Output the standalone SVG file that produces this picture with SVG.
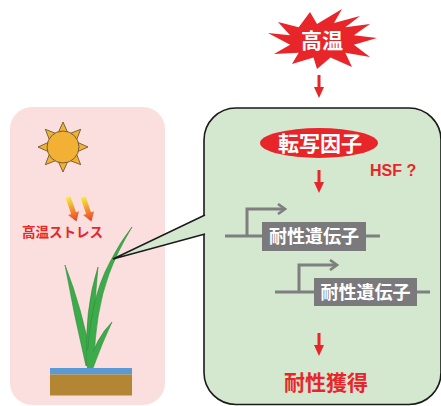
<svg xmlns="http://www.w3.org/2000/svg" width="441" height="406" viewBox="0 0 441 406">
  <style>
    .jp { font-family: "Noto Sans CJK JP", "Noto Sans", sans-serif; font-weight: bold; }
    .latin { font-family: "Liberation Sans", Arial, sans-serif; font-weight: bold; }
    .red { fill: #E8262A; }
    .white { fill: #FFFFFF; }
    .gene-line { stroke: #7F7F80; stroke-width: 3; fill: none; }
    .gene-box { fill: #7A7A7C; }
    .leaf { fill: #3CAB4A; stroke: #2F8A3A; stroke-width: 0.6; }
  </style>
  <defs>
    <linearGradient id="heat" gradientUnits="userSpaceOnUse" x1="0" y1="0" x2="0" y2="26">
      <stop offset="0" stop-color="#F6EE3C"/>
      <stop offset="1" stop-color="#EA3A2A"/>
    </linearGradient>
    <marker id="promoter" markerWidth="10" markerHeight="12" refX="7" refY="6" orient="auto" markerUnits="userSpaceOnUse">
      <path d="M1,1 L8,6 L1,11" fill="none" stroke="#7F7F80" stroke-width="2.6"/>
    </marker>
  </defs>

  <rect width="441" height="406" fill="#FFFFFF"/>

  <!-- left panel: plant under the sun -->
  <g id="plant-panel">
    <rect x="10" y="107" width="155" height="298" rx="22" fill="#FBDFDE"/>
    <g id="sun">
      <polygon points="88,147 75.9,152.4 80.7,164.7 68.4,159.9 63,172 57.6,159.9 45.3,164.7 50.1,152.4 38,147 50.1,141.6 45.3,129.3 57.6,134.1 63,122 68.4,134.1 80.7,129.3 75.9,141.6" fill="#F2B134" stroke="#5A4A30" stroke-width="0.8"/>
      <circle cx="63" cy="147" r="16" fill="#F2B134" stroke="#5A4A30" stroke-width="0.8"/>
    </g>
    <g id="heat-rays">
      <g transform="translate(68,197) rotate(-19)">
        <rect x="-2.6" y="0" width="5.2" height="18" fill="url(#heat)"/>
        <polygon points="-5.8,17 5.8,17 0,26" fill="url(#heat)"/>
      </g>
      <g transform="translate(83,197) rotate(-19)">
        <rect x="-2.6" y="0" width="5.2" height="18" fill="url(#heat)"/>
        <polygon points="-5.8,17 5.8,17 0,26" fill="url(#heat)"/>
      </g>
    </g>
    <text class="jp red" x="22" y="237" font-size="13.5">高温ストレス</text>
    <g id="rice">
      <path class="leaf" d="M86,366 Q74,315 65,265 Q82,308 92,362 Z"/>
      <path class="leaf" d="M87,366 Q84,310 98,267 Q93,318 93,362 Z"/>
      <path class="leaf" d="M87,366 Q89,300 110,262 Q120,242 132,227 Q117,252 109,274 Q95,312 94,364 Z"/>
      <path class="leaf" d="M89,364 Q96,338 112,322 Q102,343 93,368 Z"/>
      <rect x="87" y="350" width="6" height="18" fill="#3CAB4A"/>
    </g>
    <g id="pot">
      <rect x="50" y="368" width="82" height="6.5" fill="#5B9BD5"/>
      <rect x="50" y="374.5" width="82" height="21" fill="#B38633"/>
    </g>
  </g>

  <!-- right panel: heat response pathway -->
  <g id="zoom-panel">
    <rect x="204" y="108" width="237" height="296.5" rx="32" fill="#D4E7CF" stroke="#1A1A1A" stroke-width="1.6"/>
  </g>
  <g id="callout">
    <polygon points="113,259 205,215 205,234" fill="#D4E7CF"/>
    <polyline points="205,215 113,259 205,234" fill="none" stroke="#1A1A1A" stroke-width="1.4"/>
  </g>

  <g id="heat-burst">
    <polygon points="377,38 353.9,44.7 370,57 345.3,52.7 352,67 330.5,57.4 317,69 313.5,57.4 292,64 298.7,52.7 274,54 290.1,44.7 268,33 290.1,35.3 278,22 298.7,27.3 310,12 317,24 342,9 334,23 360,16 345.3,27.3 370,24 353.9,35.3" class="red"/>
    <text class="jp white" x="322" y="48" font-size="21" text-anchor="middle">高温</text>
  </g>

  <g id="transcription-factor">
    <ellipse cx="319" cy="143" rx="59" ry="15" class="red"/>
    <text class="jp white" x="320" y="151" font-size="21" text-anchor="middle">転写因子</text>
  </g>
  <text id="hsf" class="latin red" x="370" y="176" font-size="16">HSF ?</text>

  <g id="gene-1">
    <line class="gene-line" x1="225" y1="236" x2="380" y2="236"/>
    <polyline class="gene-line" points="247,236 247,209 284,209" marker-end="url(#promoter)"/>
    <rect class="gene-box" x="262" y="222" width="104" height="29"/>
    <text class="jp white" x="314" y="243" font-size="18" text-anchor="middle">耐性遺伝子</text>
  </g>
  <g id="gene-2">
    <line class="gene-line" x1="275" y1="292" x2="430" y2="292"/>
    <polyline class="gene-line" points="299,292 299,265 336,265" marker-end="url(#promoter)"/>
    <rect class="gene-box" x="314" y="278" width="103" height="28"/>
    <text class="jp white" x="365.5" y="299" font-size="18" text-anchor="middle">耐性遺伝子</text>
  </g>

  <text id="tolerance" class="jp red" x="326" y="390" font-size="21" text-anchor="middle">耐性獲得</text>

  <g id="connectors" class="red">
    <rect x="317.5" y="75" width="3" height="13"/>
    <polygon points="314,87 324,87 319,98"/>
    <rect x="317.5" y="170" width="3" height="13"/>
    <polygon points="314,182 324,182 319,193"/>
    <rect x="317.5" y="333" width="3" height="13"/>
    <polygon points="314,345 324,345 319,356"/>
  </g>
</svg>
